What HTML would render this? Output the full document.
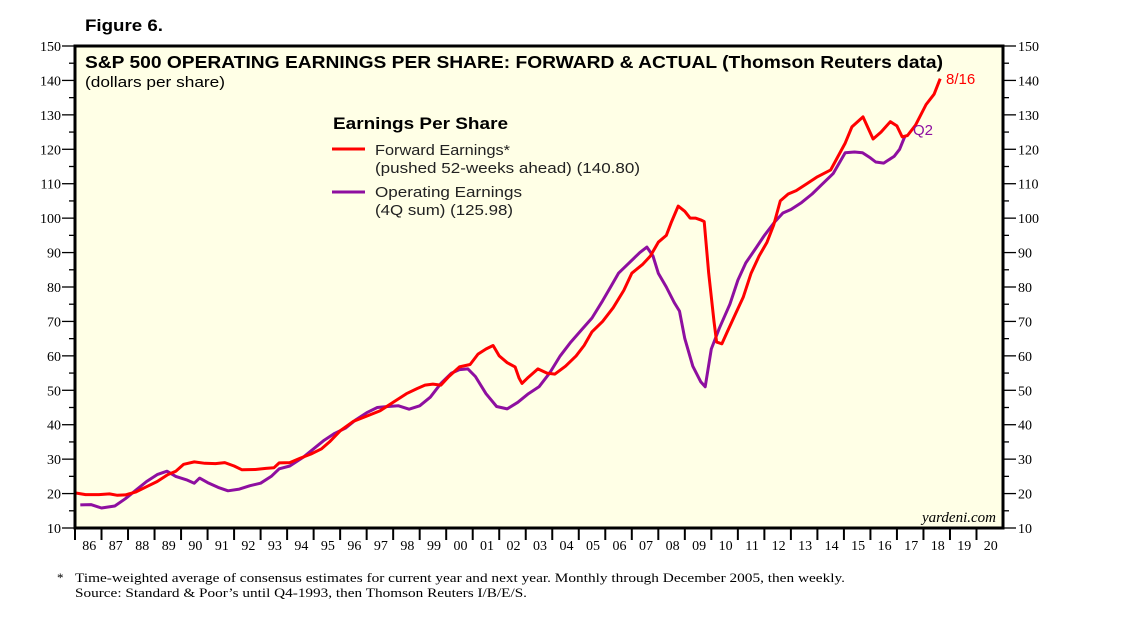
<!DOCTYPE html>
<html><head><meta charset="utf-8"><style>
body{margin:0;background:#fff;}
svg{display:block;}
</style></head><body>
<svg id="chart" width="1138" height="629" xmlns="http://www.w3.org/2000/svg" font-family="Liberation Sans, sans-serif">
<text x="85" y="31" font-size="17" font-weight="bold" textLength="78" lengthAdjust="spacingAndGlyphs">Figure 6.</text>
<rect x="75" y="46" width="928" height="482" fill="#FFFFE6"/>
<g id="grid"></g>
<g id="series"></g>
<rect x="75" y="46" width="928" height="482" fill="none" stroke="#000" stroke-width="3"/>
<text x="85" y="68" font-size="17.5" font-weight="bold" textLength="858" lengthAdjust="spacingAndGlyphs">S&amp;P 500 OPERATING EARNINGS PER SHARE: FORWARD &amp; ACTUAL (Thomson Reuters data)</text>
<text x="85" y="87" font-size="15" textLength="140" lengthAdjust="spacingAndGlyphs">(dollars per share)</text>
<g>
<text x="333" y="129" font-size="17" font-weight="bold" textLength="175" lengthAdjust="spacingAndGlyphs">Earnings Per Share</text>
<line x1="332" y1="149" x2="365" y2="149" stroke="#ff0000" stroke-width="3"/>
<text x="375" y="155" font-size="15" fill="#222" textLength="135" lengthAdjust="spacingAndGlyphs">Forward Earnings*</text>
<text x="375" y="173" font-size="15" fill="#222" textLength="265" lengthAdjust="spacingAndGlyphs">(pushed 52-weeks ahead) (140.80)</text>
<line x1="332" y1="192" x2="365" y2="192" stroke="#8e0fa0" stroke-width="3"/>
<text x="375" y="197" font-size="15" fill="#222" textLength="147" lengthAdjust="spacingAndGlyphs">Operating Earnings</text>
<text x="375" y="215" font-size="15" fill="#222" textLength="138" lengthAdjust="spacingAndGlyphs">(4Q sum) (125.98)</text>
</g>
<text x="946" y="84" font-size="15" fill="#ff0000">8/16</text>
<text x="913" y="135" font-size="15" fill="#8e0fa0">Q2</text>
<text x="996" y="522" font-size="15" font-style="italic" text-anchor="end" font-family="Liberation Serif, serif">yardeni.com</text>
<text x="57" y="582" font-size="13" font-family="Liberation Serif, serif">*</text>
<text x="75" y="582" font-size="13" font-family="Liberation Serif, serif" textLength="770" lengthAdjust="spacingAndGlyphs">Time-weighted average of consensus estimates for current year and next year. Monthly through December 2005, then weekly.</text>
<text x="75" y="597" font-size="13" font-family="Liberation Serif, serif" textLength="452" lengthAdjust="spacingAndGlyphs">Source: Standard &amp; Poor’s until Q4-1993, then Thomson Reuters I/B/E/S.</text>
</svg>
<script>
const yTicks=[10,20,30,40,50,60,70,80,90,100,110,120,130,140,150];
const yearLabels=["86","87","88","89","90","91","92","93","94","95","96","97","98","99","00","01","02","03","04","05","06","07","08","09","10","11","12","13","14","15","16","17","18","19","20"];
const fwdYears=[1986.0,1986.4,1986.9,1987.3,1987.6,1987.9,1988.3,1988.7,1989.1,1989.5,1989.8,1990.1,1990.5,1990.9,1991.3,1991.65,1992.0,1992.3,1992.8,1993.2,1993.5,1993.7,1994.1,1994.5,1994.9,1995.3,1995.6,1996.0,1996.5,1997.0,1997.5,1998.0,1998.5,1998.9,1999.2,1999.5,1999.8,2000.1,2000.5,2000.9,2001.2,2001.5,2001.77,2002.0,2002.3,2002.6,2002.75,2002.86,2003.1,2003.46,2003.8,2004.1,2004.5,2004.9,2005.2,2005.5,2005.9,2006.3,2006.7,2007.0,2007.4,2007.7,2008.0,2008.3,2008.5,2008.75,2009.0,2009.2,2009.4,2009.6,2009.73,2009.9,2010.1,2010.2,2010.4,2010.6,2010.9,2011.2,2011.5,2011.8,2012.1,2012.35,2012.6,2012.9,2013.2,2013.6,2014.0,2014.5,2015.05,2015.3,2015.72,2016.1,2016.4,2016.75,2017.0,2017.2,2017.4,2017.7,2018.1,2018.4,2018.63];
const fwdValues=[20.2,19.7,19.7,19.9,19.5,19.6,20.5,22,23.5,25.5,26.5,28.5,29.2,28.8,28.7,29,28,26.9,27,27.3,27.5,28.9,29,30.3,31.5,33,35,38.2,41,42.5,44,46.5,49,50.5,51.5,51.8,51.5,54,56.8,57.5,60.5,62,63,60,58,56.8,53.5,52,53.8,56.2,55,54.7,57,60,63,67,70,74,79,84,86.5,89,93,95,99,103.5,102,100,100,99.5,99,84,70,64,63.5,67,72,77,84,89,93,98,105,107,108,110,112,114,121.8,126.5,129.4,123,125,128,126.8,123.6,124,127,133,136,140.5];
const opYears=[1986.2,1986.6,1987.0,1987.5,1987.9,1988.3,1988.7,1989.1,1989.47,1989.8,1990.2,1990.5,1990.7,1991.0,1991.4,1991.77,1992.2,1992.6,1993.0,1993.4,1993.7,1994.1,1994.6,1995.0,1995.4,1995.8,1996.2,1996.6,1997.0,1997.4,1997.8,1998.2,1998.6,1999.0,1999.4,1999.8,2000.2,2000.5,2000.82,2001.1,2001.5,2001.9,2002.3,2002.7,2003.1,2003.5,2003.9,2004.3,2004.7,2005.1,2005.5,2005.9,2006.2,2006.5,2006.9,2007.3,2007.57,2007.8,2008.0,2008.3,2008.6,2008.8,2009.0,2009.3,2009.6,2009.77,2010.0,2010.3,2010.7,2011.0,2011.3,2011.7,2012.0,2012.4,2012.7,2013.0,2013.4,2013.8,2014.2,2014.6,2015.05,2015.4,2015.7,2016.0,2016.2,2016.5,2016.9,2017.1,2017.31];
const opValues=[16.7,16.8,15.8,16.4,18.5,21,23.5,25.5,26.5,25,24,23,24.5,23.2,21.8,20.8,21.3,22.3,23,25,27.2,28,30.5,33,35.5,37.5,39,41.5,43.5,45,45.3,45.5,44.5,45.5,48,52,55,56,56.2,54,49,45.3,44.6,46.5,49,51,55,60,64,67.5,71,76,80,84,87,90,91.6,89,84,80,75.5,73,65,57,52.5,51,62,68,75,82,87,91.5,95,99,101.5,102.5,104.5,107,110,113,119,119.2,119,117.5,116.3,116,118,120,124];

const NS="http://www.w3.org/2000/svg";
const L=75,R=1003,T=46,B=528,Y0=1986,Y1=2021,V0=10,V1=150;
function xs(y){return L+(y-Y0)/(Y1-Y0)*(R-L);}
function ys(v){return B-(v-V0)/(V1-V0)*(B-T);}
function mk(tag,attrs,parent){const e=document.createElementNS(NS,tag);for(const k in attrs)e.setAttribute(k,attrs[k]);parent.appendChild(e);return e;}
const grid=document.getElementById('grid');
yTicks.forEach((v,i)=>{
  const y=ys(v);
  let t=mk('line',{x1:L-13,x2:L,y1:y,y2:y,stroke:'#000','stroke-width':1.3},grid);
  
  
  let t2=mk('line',{x1:R,x2:R+13,y1:y,y2:y,stroke:'#000','stroke-width':1.3},grid);
  
  
  if(i<yTicks.length-1){
    const ym=ys(v+5);
    let m=mk('line',{x1:L-6,x2:L,y1:ym,y2:ym,stroke:'#000','stroke-width':1.3},grid);
    
    
    let m2=mk('line',{x1:R,x2:R+6,y1:ym,y2:ym,stroke:'#000','stroke-width':1.3},grid);
    
    
  }
  let a=mk('text',{x:L-14,y:y+5,'font-size':14,'text-anchor':'end','font-family':'Liberation Serif, serif'},grid);
  a.textContent=v;
  
  
  let b=mk('text',{x:R+15,y:y+5,'font-size':14,'font-family':'Liberation Serif, serif'},grid);
  b.textContent=v;
  
  
});
yearLabels.forEach((lab,i)=>{
  const x=xs(Y0+i);
  let t=mk('line',{x1:x,x2:x,y1:B,y2:B+12,stroke:'#000','stroke-width':2},grid);
  
  
  let tx=mk('text',{x:xs(Y0+i+0.5)+1,y:B+22,'font-size':14,'text-anchor':'middle','font-family':'Liberation Serif, serif'},grid);
  tx.textContent=lab;
  
  
});
const ser=document.getElementById('series');
function line(xsArr,vals,color,name){
  const d=xsArr.map((y,i)=>(i?'L':'M')+xs(y).toFixed(1)+','+ys(vals[i]).toFixed(1)).join(' ');
  const p=mk('path',{d:d,fill:'none',stroke:color,'stroke-width':3,'stroke-linejoin':'round'},ser);
  
  
}
line(opYears,opValues,'#8e0fa0','operating-earnings-line');
line(fwdYears,fwdValues,'#ff0000','forward-earnings-line');
</script>
</body></html>
